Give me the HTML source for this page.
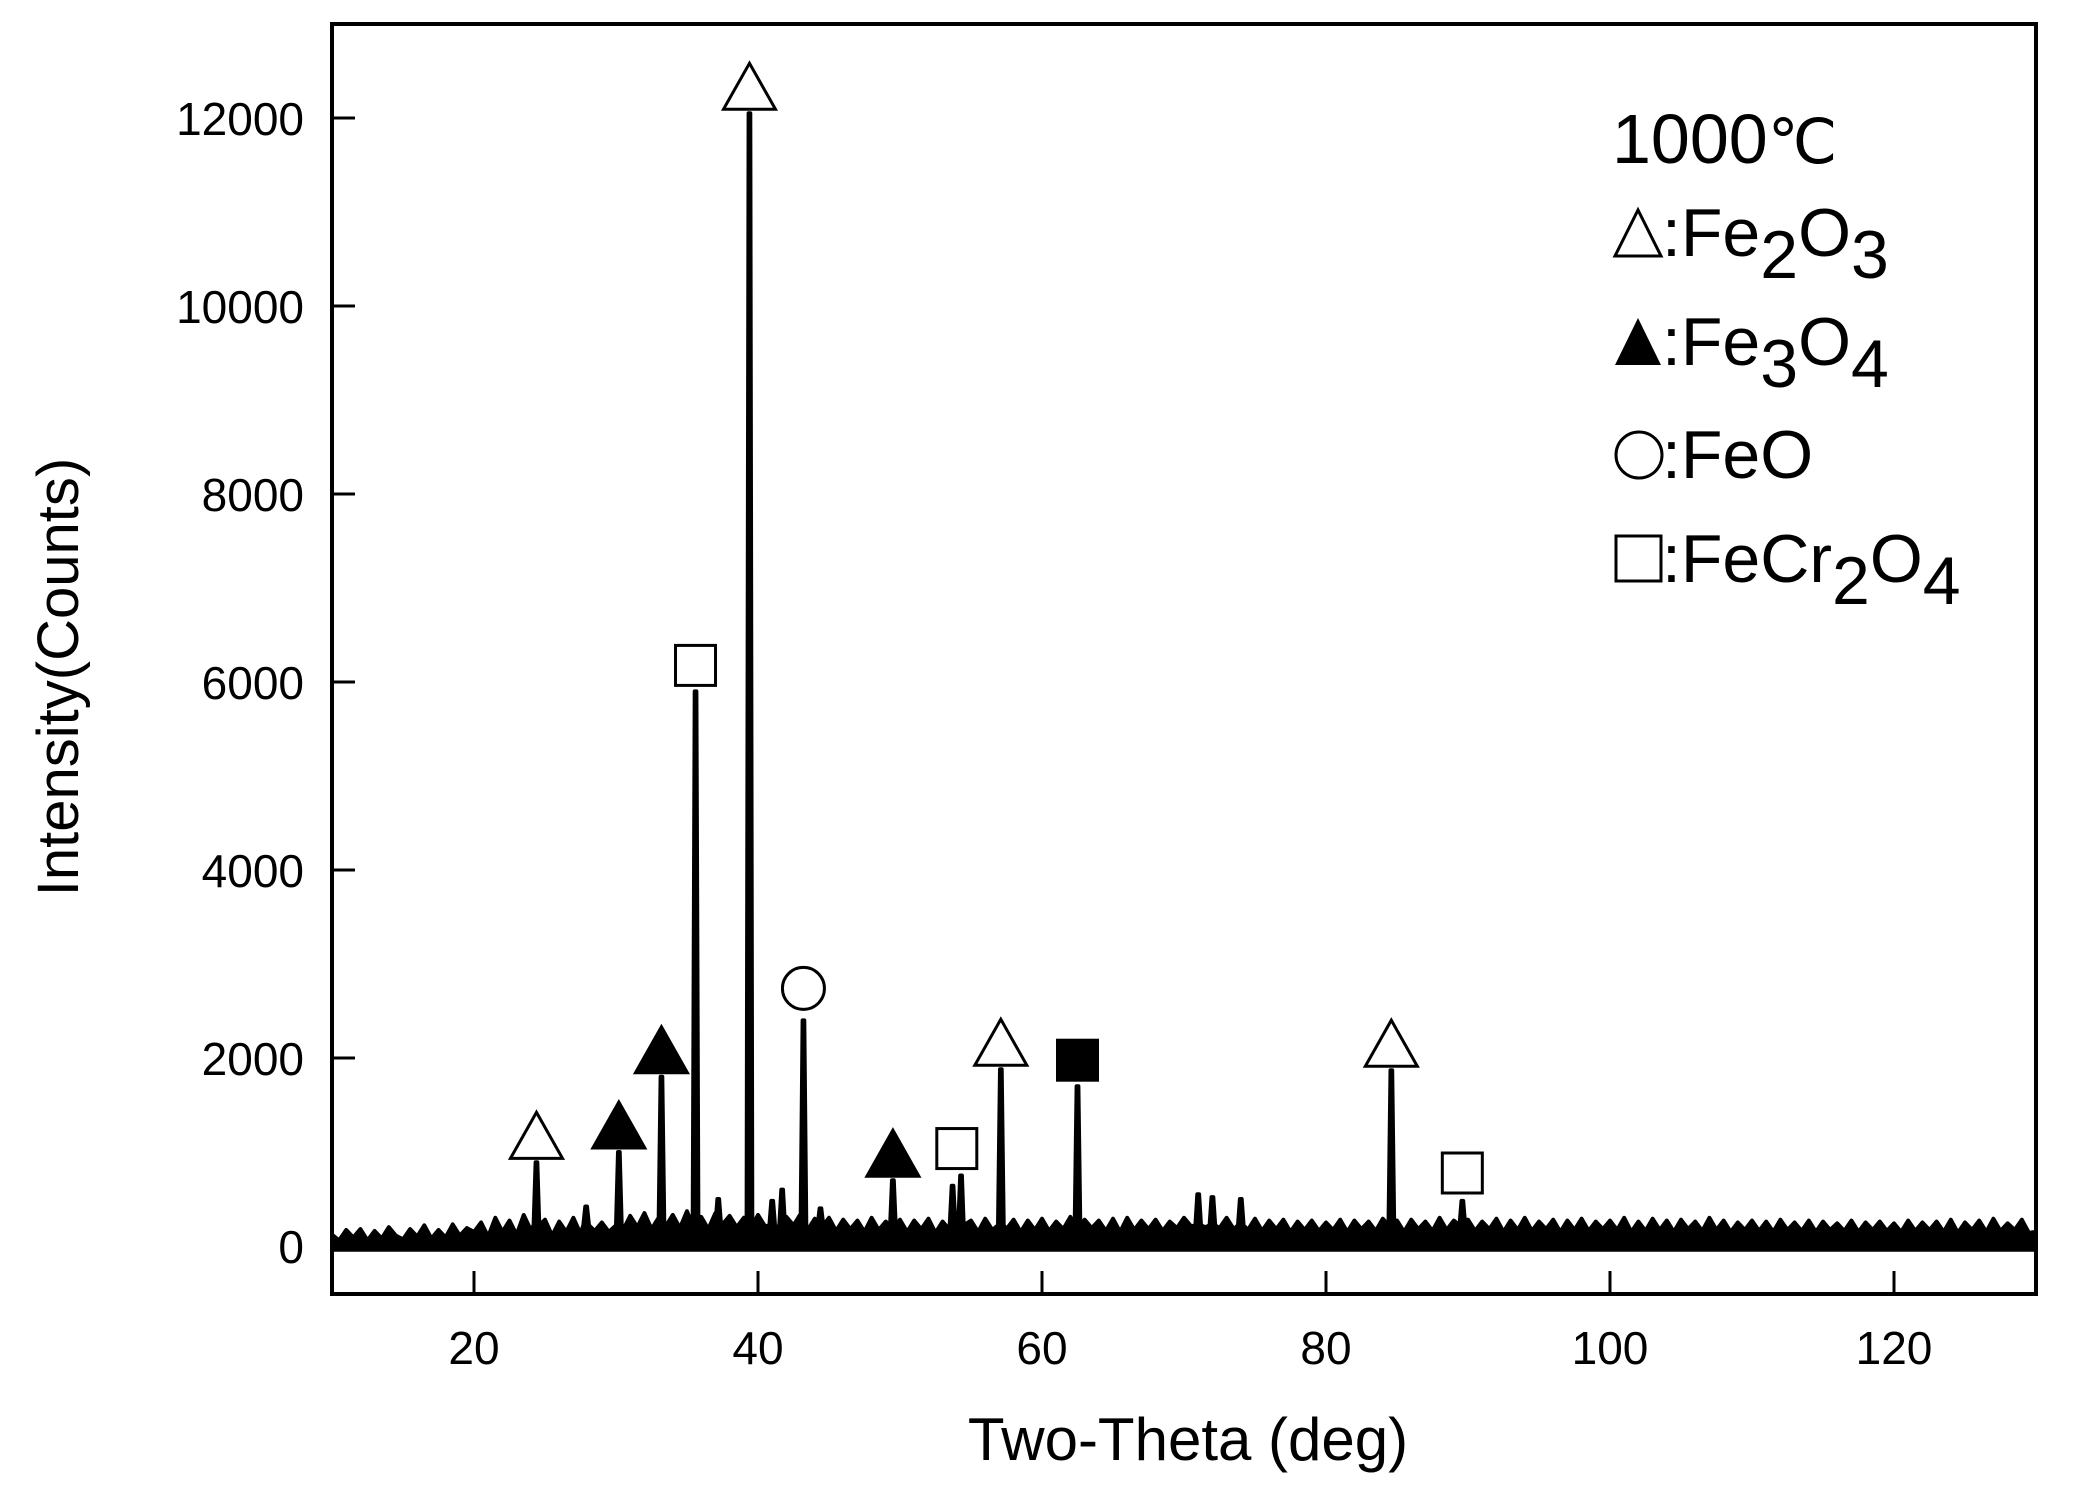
<!DOCTYPE html>
<html><head><meta charset="utf-8"><style>
html,body{margin:0;padding:0;background:#fff;}
svg{display:block;}
text{font-family:"Liberation Sans",Arial,sans-serif;fill:#000;}
</style></head><body>
<svg id="chart" width="2085" height="1493" viewBox="0 0 2085 1493" xmlns="http://www.w3.org/2000/svg">
<rect width="2085" height="1493" fill="#fff"/>
<g id="plot"></g>
<g id="axes"></g>
<g>
  <text x="1612" y="163" font-size="70">1000<tspan font-family="'Liberation Serif',serif" font-size="62">℃</tspan></text>
  <polygon points="1615,256 1661,256 1638,210" fill="#fff" stroke="#000" stroke-width="3"/>
  <text x="1662" y="256" font-size="68">:Fe<tspan dy="22">2</tspan><tspan dy="-22">O</tspan><tspan dy="22">3</tspan></text>
  <polygon points="1615,365 1661,365 1638,318" fill="#000"/>
  <text x="1662" y="365" font-size="68">:Fe<tspan dy="22">3</tspan><tspan dy="-22">O</tspan><tspan dy="22">4</tspan></text>
  <circle cx="1639" cy="455" r="23" fill="#fff" stroke="#000" stroke-width="3"/>
  <text x="1662" y="478" font-size="68">:FeO</text>
  <rect x="1616" y="536" width="45" height="45" fill="#fff" stroke="#000" stroke-width="3"/>
  <text x="1662" y="582" font-size="68">:FeCr<tspan dy="22">2</tspan><tspan dy="-22">O</tspan><tspan dy="22">4</tspan></text>
</g>
<text x="1188" y="1460" font-size="60" text-anchor="middle">Two-Theta (deg)</text>
<text transform="translate(78,677) rotate(-90)" font-size="58" text-anchor="middle">Intensity(Counts)</text>
</svg>
<script>
const noiseStart = 10, noiseStep = 0.5;
const noise = [
120,60,170,90,180,60,160,80,200,110,70,180,100,220,80,170,90,230,110,190,
150,250,100,300,150,270,120,330,170,130,280,110,260,150,300,130,340,160,250,150,
290,170,320,200,350,180,300,210,330,190,370,220,310,180,350,230,320,200,300,220,
330,210,360,180,310,220,340,170,290,190,300,160,280,180,270,150,300,170,260,160,
280,150,270,180,290,140,260,170,300,160,270,150,290,170,260,180,280,150,270,170,
290,160,260,180,310,170,280,190,270,160,290,150,300,170,270,180,280,160,260,190,
300,210,330,200,310,190,300,180,280,170,290,160,270,180,280,150,260,170,270,160,
250,170,280,150,270,180,260,160,290,170,270,150,280,180,260,160,300,170,270,180,
280,160,260,180,290,150,270,170,300,160,260,180,280,150,270,170,290,160,260,180,
270,170,300,150,260,160,290,170,270,150,280,180,260,160,300,170,270,150,250,170,
270,160,260,150,280,170,250,160,270,150,260,170,240,160,270,150,250,170,260,160,
240,150,270,160,250,170,260,150,280,140,250,170,270,150,290,160,240,170,280,140,
150];
const peakPos = [24.4,27.9,30.2,33.2,35.6,37.2,39.4,41.0,41.7,43.2,44.4,49.5,53.7,54.3,57.1,62.5,71.0,72.0,74.0,84.6,89.6];
const peakInt = [890,420,1000,1800,5900,500,12050,480,600,2400,400,700,640,750,1880,1700,550,520,500,1870,480];
const markPos = [24.4,30.2,33.2,35.6,39.4,43.2,49.5,54.0,57.1,62.5,84.6,89.6];
const markTop = [890,1000,1800,5900,12050,2400,700,760,1880,1700,1870,500];
const markType = ['otri','ftri','ftri','osq','otri','ocirc','ftri','osq','otri','fsq','otri','osq'];
const xTicks = [20,40,60,80,100,120];
const yTicks = [0,2000,4000,6000,8000,10000,12000];

const L=332,R=2036,T=24,B=1294,X0=10,X1=130;
const X=v=>L+(v-X0)*(R-L)/(X1-X0);
const Y=v=>1246-v*0.094;
const NS='http://www.w3.org/2000/svg';
const mk=(t,a,p)=>{const e=document.createElementNS(NS,t);for(const k in a)e.setAttribute(k,a[k]);p.appendChild(e);return e;};
const plot=document.getElementById('plot'), axes=document.getElementById('axes');

let pts=[];
noise.forEach((v,i)=>pts.push([noiseStart+i*noiseStep,v]));
peakPos.forEach((p,i)=>{
  pts=pts.filter(q=>Math.abs(q[0]-p)>0.2);
  pts.push([p-0.2,220],[p-0.06,peakInt[i]],[p+0.06,peakInt[i]],[p+0.2,220]);
});
pts.sort((a,b)=>a[0]-b[0]);
let d='M'+X(pts[0][0])+','+Y(-40);
pts.forEach(q=>d+=' L'+X(q[0]).toFixed(1)+','+Y(q[1]).toFixed(1));
d+=' L'+X(pts[pts.length-1][0])+','+Y(-40)+' Z';
const sp=mk('path',{d:d,fill:'#000',stroke:'#000','stroke-width':4,'stroke-linejoin':'round'},plot);



markPos.forEach((p,i)=>{
  const cx=X(p), top=Y(markTop[i])-4, t=markType[i];
  let e;
  if(t==='otri'||t==='ftri'){
    e=mk('polygon',{points:`${cx-26},${top} ${cx+26},${top} ${cx},${top-46}`,fill:t==='ftri'?'#000':'#fff',stroke:'#000','stroke-width':3},plot);
  } else if(t==='osq'||t==='fsq'){
    e=mk('rect',{x:cx-20,y:top-42,width:40,height:40,fill:t==='fsq'?'#000':'#fff',stroke:'#000','stroke-width':3},plot);
  } else {
    e=mk('circle',{cx:cx,cy:top-28,r:21,fill:'#fff',stroke:'#000','stroke-width':3},plot);
  }
  
  
});

const fr=mk('rect',{x:L,y:T,width:R-L,height:B-T,fill:'none',stroke:'#000','stroke-width':4},axes);


xTicks.forEach(v=>{
  const tk=mk('line',{x1:X(v),x2:X(v),y1:B,y2:B-23,stroke:'#000','stroke-width':3},axes);
  
  
  const tx=mk('text',{x:X(v),y:1364,'font-size':46,'text-anchor':'middle'},axes);
  tx.textContent=v;
  
  
});
yTicks.forEach(v=>{
  const tk=mk('line',{x1:L,x2:L+23,y1:Y(v),y2:Y(v),stroke:'#000','stroke-width':3},axes);
  
  
  const tx=mk('text',{x:304,y:Y(v)+17,'font-size':46,'text-anchor':'end'},axes);
  tx.textContent=v;
  
  
});
</script>
</body></html>
